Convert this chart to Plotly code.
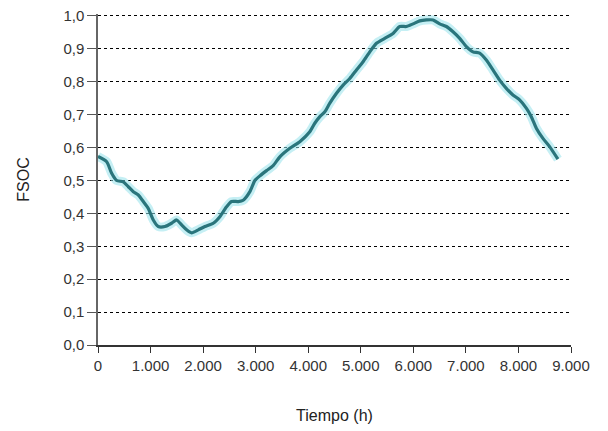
import plotly.graph_objects as go

tiempo = [0, 165, 260, 355, 480, 577, 672, 767, 862, 957, 1052, 1147, 1274, 1400, 1496,
          1591, 1686, 1781, 1908, 2034, 2193, 2319, 2446, 2541, 2668, 2763, 2890, 2985,
          3080, 3207, 3333, 3460, 3650, 3840, 4030, 4125, 4221, 4316, 4411, 4538, 4664,
          4791, 4918, 5044, 5171, 5298, 5456, 5614, 5741, 5868, 5994, 6122, 6249, 6375,
          6502, 6629, 6755, 6882, 7009, 7135, 7262, 7389, 7515, 7642, 7769, 7895, 8022,
          8149, 8245, 8340, 8466, 8593, 8751]
fsoc = [0.573, 0.557, 0.522, 0.500, 0.496, 0.481, 0.466, 0.456, 0.436, 0.415, 0.380, 0.360,
        0.360, 0.370, 0.380, 0.365, 0.350, 0.341, 0.350, 0.360, 0.370, 0.390, 0.420, 0.436,
        0.436, 0.440, 0.466, 0.500, 0.514, 0.530, 0.545, 0.572, 0.598, 0.618, 0.648, 0.674,
        0.694, 0.709, 0.735, 0.765, 0.790, 0.810, 0.836, 0.861, 0.891, 0.917, 0.932, 0.947,
        0.968, 0.968, 0.976, 0.985, 0.988, 0.988, 0.976, 0.968, 0.952, 0.932, 0.907, 0.891,
        0.887, 0.866, 0.836, 0.805, 0.780, 0.760, 0.745, 0.720, 0.694, 0.659, 0.628, 0.603,
        0.565]

y_ticks = [0, 0.1, 0.2, 0.3, 0.4, 0.5, 0.6, 0.7, 0.8, 0.9, 1.0]
y_labels = ["0,0", "0,1", "0,2", "0,3", "0,4", "0,5", "0,6", "0,7", "0,8", "0,9", "1,0"]
x_ticks = [0, 1000, 2000, 3000, 4000, 5000, 6000, 7000, 8000, 9000]
x_labels = ["0", "1.000", "2.000", "3.000", "4.000", "5.000", "6.000", "7.000", "8.000", "9.000"]

fig = go.Figure()
fig.add_trace(go.Scatter(x=tiempo, y=fsoc, mode="lines",
                         line=dict(color="rgba(150,225,235,0.55)", width=9, shape="spline", smoothing=0.6),
                         hoverinfo="skip", showlegend=False))
fig.add_trace(go.Scatter(x=tiempo, y=fsoc, mode="lines",
                         line=dict(color="#2a757c", width=3.2, shape="spline", smoothing=0.6),
                         showlegend=False))

tick_font = dict(family="Liberation Sans, Arial, sans-serif", size=15, color="#333333")
title_font = dict(family="Liberation Sans, Arial, sans-serif", size=16, color="#222222")

# The page body adds an 8px offset, so the figure is sized/margined to compensate.
fig.update_layout(
    width=600, height=423,
    margin=dict(l=90, r=37, t=6, b=86, autoexpand=False),
    paper_bgcolor="white", plot_bgcolor="white",
    font=tick_font,
    xaxis=dict(range=[0, 9000], tickvals=x_ticks, ticktext=x_labels, automargin=False,
               showgrid=False, zeroline=False, showline=True, linecolor="#333333", linewidth=1.5,
               ticks="outside", ticklen=6, tickcolor="#333333", tickfont=tick_font,
               ticklabeloverflow="allow",
               title=dict(text="Tiempo (h)", standoff=37, font=title_font)),
    yaxis=dict(range=[0, 1.006], tickvals=y_ticks, ticktext=y_labels, automargin=False,
               showgrid=True, gridcolor="black", griddash="dot", gridwidth=1,
               zeroline=False, showline=True, linecolor="#666666", linewidth=1.5,
               ticks="outside", ticklen=9, tickcolor="#555555", tickfont=tick_font,
               ticklabeloverflow="allow",
               title=dict(text="FSOC", standoff=30, font=title_font)),
)

fig.write_html("out.html")
